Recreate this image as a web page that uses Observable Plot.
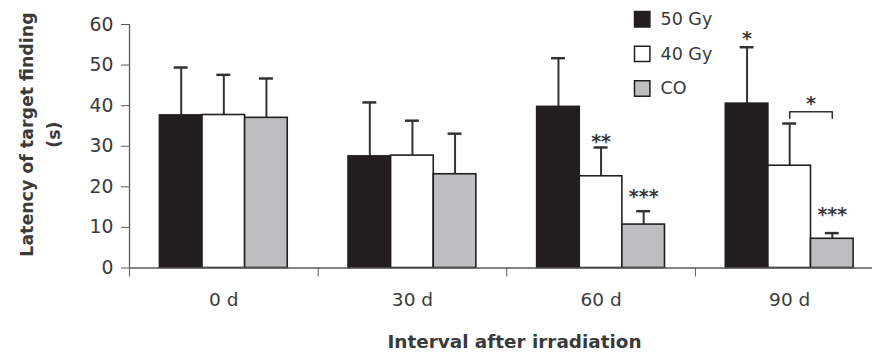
<!DOCTYPE html>
<html><head><meta charset="utf-8">
<script src="https://cdn.jsdelivr.net/npm/d3@7"></script>
<script src="https://cdn.jsdelivr.net/npm/@observablehq/plot@0.6"></script>
<style>
html,body{margin:0;padding:0;background:#fff;overflow:hidden;}
</style></head><body><div id="chart"></div>
<script>
// ---- data ----
const intervals = ["0 d", "30 d", "60 d", "90 d"];
const series = ["50 Gy", "40 Gy", "CO"];
const mean50Gy = [37.6, 27.5, 39.7, 40.5];
const sd50Gy   = [11.8, 13.3, 12.0, 13.9];
const mean40Gy = [37.7, 27.7, 22.6, 25.2];
const sd40Gy   = [9.9, 8.6, 7.1, 10.4];
const meanCO   = [37.0, 23.1, 10.7, 7.2];
const sdCO     = [9.7, 10.0, 3.3, 1.4];
const yTicks = [0, 10, 20, 30, 40, 50, 60];
// significance marks: interval, series slot (1.5 = between 40 Gy and CO), y value
const sigText     = ["**", "***", "*", "*", "***"];
const sigInterval = ["60 d", "60 d", "90 d", "90 d", "90 d"];
const sigSlot     = [1, 2, 0, 1.5, 2];
const sigY        = [32.6, 18.9, 58.0, 42.0, 14.5];
// bracket between 40 Gy and CO at 90 d
const bracketInterval = "90 d";
const bracketSlots = [1, 2];
const bracketTop = 38.5;
const bracketFoot = 36.9;
const xTitle = "Interval after irradiation";
const yTitle = "Latency of target finding\n(s)";

// ---- table ----
const means = [mean50Gy, mean40Gy, meanCO];
const sds = [sd50Gy, sd40Gy, sdCO];
const rows = [];
intervals.forEach((iv, gi) => series.forEach((s, si) => {
  rows.push({interval: iv, gi, series: s, si, mean: means[si][gi], sd: sds[si][gi]});
}));

// ---- layout ----
const BW = 0.2259;    // bar width in group units
const CAP = 0.037;    // half cap width in group units
const slotX = (gi, slot) => gi + (slot - 1) * BW;
const center = d => slotX(d.gi, d.si);
const axisColor = "#5a5a5a";
const textColor = "#3a3a3a";
const barStroke = "#231f20";
const errColor = "#333333";
const font = "'DejaVu Sans', sans-serif";

const sigRows = sigText.map((t, i) => ({
  text: t, x: slotX(intervals.indexOf(sigInterval[i]), sigSlot[i]), y: sigY[i]
}));
const bgi = intervals.indexOf(bracketInterval);
const bracket = [
  {x: slotX(bgi, bracketSlots[0]), y: bracketFoot},
  {x: slotX(bgi, bracketSlots[0]), y: bracketTop},
  {x: slotX(bgi, bracketSlots[1]), y: bracketTop},
  {x: slotX(bgi, bracketSlots[1]), y: bracketFoot}
];

const legendMarks = series.flatMap((s, i) => [
  Plot.dot([s], {frameAnchor: "top-left", dx: 512.7, dy: -5.2 + i * 34.6,
    symbol: "square", r: 8.7, fill: d => d, stroke: barStroke, strokeWidth: 1.5}),
  Plot.text([s], {frameAnchor: "top-left", dx: 531, dy: -5.2 + i * 34.6,
    text: d => d, textAnchor: "start", lineAnchor: "middle", fontSize: 17.5, fill: textColor})
]);

const chart = Plot.plot({
  width: 872,
  height: 356,
  marginLeft: 129,
  marginRight: -11.5,
  marginTop: 24,
  marginBottom: 88.5,
  style: {fontFamily: font, background: "white", overflow: "hidden"},
  x: {type: "linear", domain: [-0.5, 3.5], axis: null},
  y: {domain: [0, 60], axis: null},
  color: {domain: series, range: ["#231f20", "#ffffff", "#bcbec0"]},
  marks: [
    Plot.axisY({ticks: yTicks, tickSize: 8, tickPadding: 8, fontSize: 18.8,
      stroke: axisColor, fill: textColor, label: null}),
    Plot.axisX({ticks: [-0.5, 0.5, 1.5, 2.5], tickSize: 9, tickFormat: () => "",
      stroke: axisColor, label: null}),
    Plot.axisX({ticks: [0, 1, 2, 3], tickSize: 0, tickPadding: 25,
      tickFormat: i => intervals[i], fontSize: 18.5, fill: textColor, label: null}),
    Plot.ruleX([-0.5], {y1: 0, y2: 60, stroke: axisColor, strokeWidth: 1.3}),
    Plot.ruleX(rows, {x: center, y1: "mean", y2: d => d.mean + d.sd, stroke: errColor, strokeWidth: 2}),
    Plot.ruleY(rows, {y: d => d.mean + d.sd, x1: d => center(d) - CAP, x2: d => center(d) + CAP,
      stroke: errColor, strokeWidth: 2.5}),
    Plot.rect(rows, {x1: d => center(d) - BW / 2, x2: d => center(d) + BW / 2, y1: 0, y2: "mean",
      fill: "series", stroke: barStroke, strokeWidth: 1.6}),
    Plot.ruleY([0], {stroke: axisColor, strokeWidth: 1.3}),
    Plot.text(sigRows, {x: "x", y: "y", text: "text", fontSize: 19, fontWeight: "bold",
      fill: textColor, dy: 6, lineAnchor: "middle"}),
    Plot.line(bracket, {x: "x", y: "y", stroke: errColor, strokeWidth: 1.6,
      strokeLinejoin: "round", strokeLinecap: "round"}),
    ...legendMarks,
    Plot.text([yTitle], {frameAnchor: "left", rotate: -90, dx: -92, dy: -11.7,
      textAnchor: "middle", lineAnchor: "middle",
      fontSize: 17.4, fontWeight: "bold", fill: textColor, lineHeight: 1.55}),
    Plot.text([xTitle], {frameAnchor: "bottom", dx: 7.75, dy: 74.5,
      textAnchor: "middle", lineAnchor: "middle",
      fontSize: 18.4, fontWeight: "bold", fill: textColor})
  ]
});
document.getElementById("chart").appendChild(chart);
</script></body></html>
